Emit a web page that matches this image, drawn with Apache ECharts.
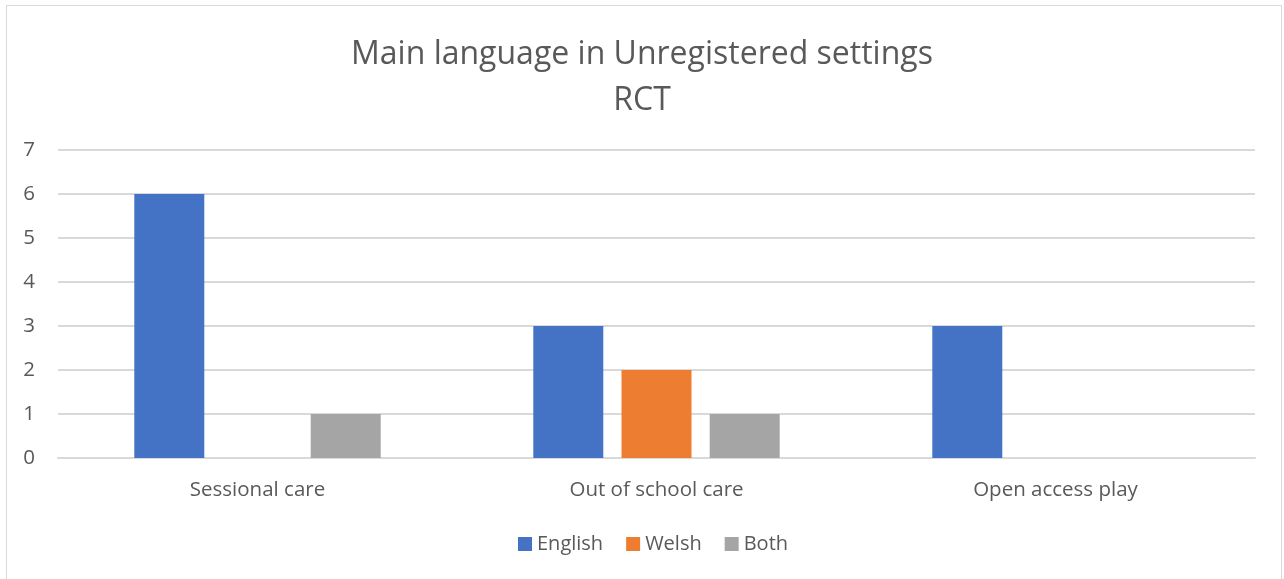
<!DOCTYPE html>
<html>
<head>
<meta charset="utf-8">
<script src="https://cdn.jsdelivr.net/npm/echarts@6/dist/echarts.min.js"></script>
<style>
  html, body { margin: 0; padding: 0; background: #fff; }
  #frame { position: absolute; left: 6px; top: 5px; width: 1276px; height: 590px; border: 1px solid #d9d9d9; box-sizing: border-box; }
  #chart { position: absolute; left: 0; top: 0; width: 1284px; height: 579px; }
</style>
</head>
<body>
<div id="frame"></div>
<div id="chart"></div>
<script>
const categories = ['Sessional care', 'Out of school care', 'Open access play']
const english = [6, 3, 3]
const welsh = [0, 2, 0]
const both = [1, 1, 0]
const yTicks = [0, 1, 2, 3, 4, 5, 6, 7]

const textColor = '#595959'
const font = 'Open Sans'

const chart = echarts.init(document.getElementById('chart'), null, { renderer: 'canvas' })

chart.setOption({
  animation: false,
  color: ['#4472c4', '#ed7d31', '#a5a5a5'],
  title: {
    text: 'Main language in Unregistered settings\nRCT',
    left: 'center',
    top: 27,
    textStyle: { color: textColor, fontFamily: font, fontWeight: 'normal', fontSize: 32, lineHeight: 46 },
  },
  legend: {
    bottom: 20,
    left: 513,
    itemWidth: 14,
    itemHeight: 14,
    itemGap: 23,
    icon: 'rect',
    textStyle: { color: textColor, fontFamily: font, fontSize: 20 },
  },
  grid: { left: 58, right: 29, top: 150, bottom: 121 },
  xAxis: {
    type: 'category',
    data: categories,
    axisLine: { lineStyle: { color: '#d9d9d9', width: 2 } },
    axisTick: { show: false },
    axisLabel: { color: textColor, fontFamily: font, fontSize: 20.5, margin: 22 },
  },
  yAxis: {
    type: 'value',
    min: yTicks[0],
    max: yTicks[yTicks.length - 1],
    interval: 1,
    axisLine: { show: false },
    axisTick: { show: false },
    axisLabel: { color: textColor, fontFamily: font, fontSize: 20.5, margin: 23 },
    splitLine: { lineStyle: { color: '#d9d9d9', width: 2 } },
  },
  series: [
    { name: 'English', type: 'bar', data: english, barWidth: 70, barGap: '26%', barCategoryGap: '38%' },
    { name: 'Welsh', type: 'bar', data: welsh, barWidth: 70, barGap: '26%', barCategoryGap: '38%' },
    { name: 'Both', type: 'bar', data: both, barWidth: 70, barGap: '26%', barCategoryGap: '38%' },
  ],
})
</script>
</body>
</html>
